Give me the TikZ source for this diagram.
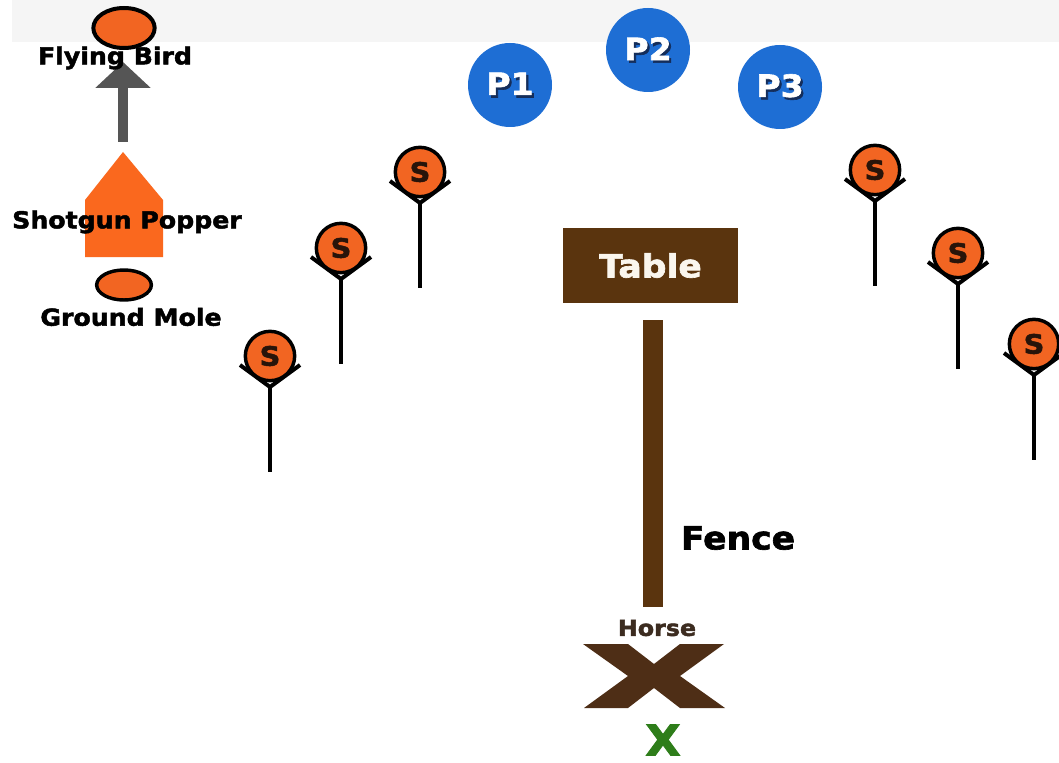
\documentclass[tikz,border=0pt]{standalone}
\usepackage{fontspec}
\usetikzlibrary{shapes.geometric,arrows.meta}
\newfontfamily\bk[FakeStretch=1.08, BoldFeatures={FakeBold=2}]{DejaVu Sans}
\definecolor{band}{RGB}{245,245,245}
\definecolor{skeetor}{RGB}{242,101,34}
\definecolor{popor}{RGB}{250,104,30}
\definecolor{pblue}{RGB}{30,110,212}
\definecolor{pshad}{RGB}{20,45,90}
\definecolor{tbrown}{RGB}{90,52,14}
\definecolor{xbrown}{RGB}{78,46,22}
\definecolor{horsetxt}{RGB}{60,44,32}
\definecolor{sdark}{RGB}{40,20,10}
\definecolor{xgreen}{RGB}{46,125,26}
\definecolor{arrgray}{RGB}{85,85,85}
\definecolor{tabletxt}{RGB}{250,246,238}
\newcommand\fsz[1]{\fontsize{#1}{#1}\selectfont}
\newcommand\shadowed[1]{\makebox[0pt][l]{\hspace{1.6pt}\raisebox{-1.9pt}{\color{pshad}#1}}#1}
\begin{document}
\begin{tikzpicture}[x=0.75pt,y=-0.75pt,
  lbl/.style={font=\bk\bfseries\fsz{17.5pt}, text=black, inner sep=0pt},
  skeet/.style={circle, draw=black, line width=2.6pt, fill=skeetor, minimum size=37pt, inner sep=0pt, font=\bk\bfseries\fsz{20pt}, text=sdark},
  stemline/.style={draw=black, line width=3pt},
  pcirc/.style={circle, fill=pblue, minimum size=63pt, inner sep=0pt, font=\bk\bfseries\fsz{23pt}, text=white},
  clay/.style={ellipse, draw=black, fill=skeetor, inner sep=0pt},
  brownbar/.style={fill=tbrown, inner sep=0pt}
]
\useasboundingbox (0,0) rectangle (1059,763);
\fill[white] (0,0) rectangle (1059,763);
\fill[band] (12,0) rectangle (1059,42);

% legend
\node[clay, line width=3pt, minimum width=46pt, minimum height=30pt] (bird) at (124,28) {};
\coordinate (arrfoot) at (123,142);
\coordinate (arrtip) at (123,62);
\draw[draw=arrgray, line width=7.5pt, -{Triangle[length=19.5pt,width=40.5pt]}] (arrfoot) -- (arrtip);
\node[lbl] (birdlbl) at (115,58) {Flying Bird};
\fill[popor] (123,152) -- (163,200) -- (163,257) -- (85,257) -- (85,200) -- cycle;
\node[lbl] (poplbl) at (127,222) {Shotgun Popper};
\node[clay, line width=2.6pt, minimum width=41pt, minimum height=22.5pt] (mole) at (124,285) {};
\node[lbl] (molelbl) at (131,317) {Ground Mole};

% skeet stations
\foreach \n/\x/\y in {t1/420/172, t2/341/248, t3/270/356, t4/875/170, t5/958/253, t6/1034/344}{
  \coordinate (\n c) at (\x,\y);
  \draw[stemline, line join=miter] (\n c) ++(-30,9) -- ++(30,22) -- ++(30,-22);
  \draw[stemline] (\n c) ++(0,31) -- ++(0,85);
  \node[skeet] (\n) at (\n c) {S};
}

% shooting positions
\foreach \n/\x/\y/\t in {p1/510/85/P1, p2/648/50/P2, p3/780/87/P3}{
  \node[pcirc] (\n) at (\x,\y) {\shadowed{\t}};
}

% table and fence
\node[brownbar, minimum width=131.25pt, minimum height=56.25pt, text=tabletxt, font=\bk\bfseries\fsz{24pt}] (table) at (650.5,265.5) {Table};
\node[brownbar, minimum width=15pt, minimum height=215pt] (fence) at (653,463.5) {};
\node[lbl, font=\bk\bfseries\fsz{24pt}] (fencelbl) at (738,538) {Fence};

% horse
\node[lbl, text=horsetxt, font=\bk\bfseries\fsz{16.5pt}] (horselbl) at (657,628) {Horse};
\coordinate (hx) at (654,676);
\fill[xbrown] (hx) ++(-71,-32) -- ++(45,0) -- ++(26,20) -- ++(26,-20) -- ++(44,0)
  -- ++(-44,32) -- ++(45,32) -- ++(-45,0) -- ++(-26,-20) -- ++(-26,20) -- ++(-44,0)
  -- ++(44,-32) -- cycle;
\node[lbl, text=xgreen, font=\bk\bfseries\fsz{32pt}] (xmark) at (663,740) {X};
\end{tikzpicture}
\end{document}
